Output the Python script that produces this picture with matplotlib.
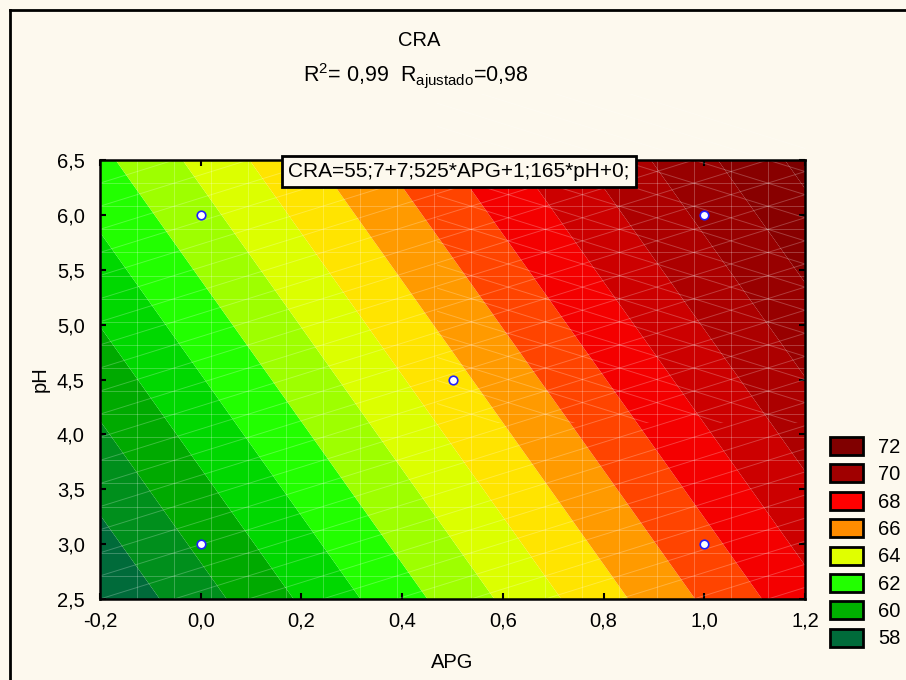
import numpy as np
import matplotlib
matplotlib.use('Agg')
import matplotlib.pyplot as plt
from matplotlib.patches import Patch, Rectangle
from matplotlib.lines import Line2D

plt.rcParams['font.family'] = ['Liberation Sans', 'DejaVu Sans']
plt.rcParams['mathtext.fontset'] = 'custom'
plt.rcParams['mathtext.rm'] = 'Liberation Sans'
plt.rcParams['mathtext.it'] = 'Liberation Sans'

b0 = 55.7
b_apg = 7.525
b_ph = 1.165

# puntos experimentales
apg_pts = [0.0, 0.0, 0.5, 1.0, 1.0]
ph_pts = [3.0, 6.0, 4.5, 3.0, 6.0]

# niveles de contorno y colores de cada banda
niveles = [50, 58, 59, 60, 61, 62, 63, 64, 65, 66, 67, 68, 69, 70, 71, 72, 80]
colores = ['#006b3a', '#008f1c', '#00aa00', '#00d800', '#22ff00', '#9eff00',
           '#dcff00', '#ffe400', '#ff9a00', '#ff4400', '#f40000', '#cc0000',
           '#ac0000', '#980000', '#880000', '#7c0000']

leyenda_valores = ['72', '70', '68', '66', '64', '62', '60', '58']
leyenda_colores = ['#800000', '#a00000', '#ff0000', '#ff8c00', '#e0ff00',
                   '#22ff00', '#00b000', '#006b3a']

xticks = [-0.2, 0.0, 0.2, 0.4, 0.6, 0.8, 1.0, 1.2]
xticklabels = ['-0,2', '0,0', '0,2', '0,4', '0,6', '0,8', '1,0', '1,2']
yticks = [2.5, 3.0, 3.5, 4.0, 4.5, 5.0, 5.5, 6.0, 6.5]
yticklabels = ['2,5', '3,0', '3,5', '4,0', '4,5', '5,0', '5,5', '6,0', '6,5']

fondo = '#fdf9ee'
fs = 14.5

fig = plt.figure(figsize=(9.06, 6.8), dpi=100, facecolor=fondo)
ax = fig.add_axes([100/906, 81/680, 705/906, 439/680])

# superficie de respuesta
x = np.linspace(-0.2, 1.2, 300)
y = np.linspace(2.5, 6.5, 300)
X, Y = np.meshgrid(x, y)
Z = b0 + b_apg*X + b_ph*Y
ax.contourf(X, Y, Z, levels=niveles, colors=colores, antialiased=True)

# malla de triangulos (lineas blancas tenues)
n = 19
dx = 1.4/n
dy = 4.0/n
kw = dict(color='white', lw=0.7, alpha=0.24, zorder=2)
for k in range(1, n):
    ax.axvline(-0.2 + k*dx, **kw)
    ax.axhline(2.5 + k*dy, **kw)
clip_der = Rectangle((0.47, 4.1), 1.0, 3.0, transform=ax.transData)
for c in range(-10, n + 1):
    xs = np.array([-0.2, 1.2])
    ys = 2.5 + (c + (xs + 0.2)/dx/2)*dy
    ax.plot(xs, ys, **kw)
    ys2 = 2.5 + (c + 10 - (xs + 0.2)/dx/2)*dy
    l2 = ax.plot(xs, ys2, **kw)[0]
    l2.set_clip_path(clip_der)

ax.scatter(apg_pts, ph_pts, s=38, facecolor='white', edgecolor='#1f1fff',
           linewidth=1.2, zorder=5)

ax.set_xlim(-0.2, 1.2)
ax.set_ylim(2.5, 6.5)
ax.set_xticks(xticks)
ax.set_xticklabels(xticklabels)
ax.set_yticks(yticks)
ax.set_yticklabels(yticklabels)
ax.tick_params(direction='in', length=4, width=1.5, labelsize=fs,
               top=True, right=True)
ax.tick_params(axis='x', pad=9)
ax.tick_params(axis='y', pad=11)
for s in ax.spines.values():
    s.set_linewidth(1.8)

ax.set_xlabel('APG', fontsize=fs, labelpad=16)
ax.set_ylabel('pH', fontsize=fs, labelpad=5)

ax.text(0.509, 0.974, 'CRA=55;7+7;525*APG+1;165*pH+0;', transform=ax.transAxes,
        ha='center', va='center', fontsize=15, zorder=6,
        bbox=dict(boxstyle='square,pad=0.3', facecolor=fondo,
                  edgecolor='black', linewidth=2))

fig.text(0.463, 1 - 40/680, 'CRA', ha='center', va='center', fontsize=fs)
fig.text(0.459, 1 - 76/680, r'R$^2$= 0,99  R$_{\mathrm{ajustado}}$=0,98',
         ha='center', va='center', fontsize=15.5)

handles = [Patch(facecolor=c, edgecolor='black', linewidth=2)
           for c in leyenda_colores]
fig.legend(handles, leyenda_valores, loc='upper left',
           bbox_to_anchor=(822/906, 1 - 429/680), frameon=False, fontsize=fs,
           handlelength=1.65, handleheight=1.0, handletextpad=0.75,
           labelspacing=0.37, borderaxespad=0.0)

# marco de la figura
fig.add_artist(Line2D([10/906, 10/906], [0, 1 - 10/680], color='black', lw=2))
fig.add_artist(Line2D([10/906, 1], [1 - 10/680, 1 - 10/680], color='black', lw=2))

fig.savefig('out.png', dpi=100, facecolor=fondo)
